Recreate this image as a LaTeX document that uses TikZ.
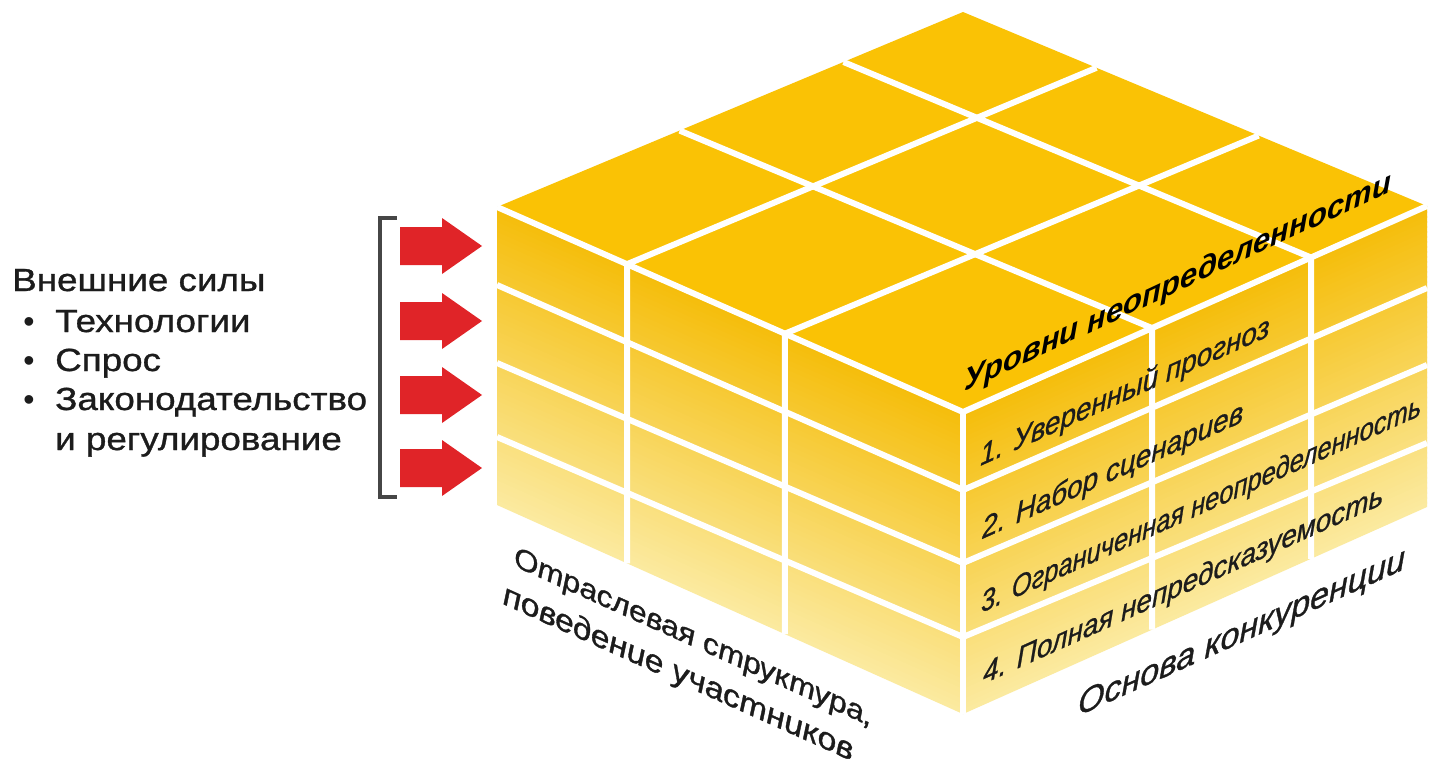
\documentclass[tikz,border=0pt]{standalone}
\usepackage{fontspec}
\setmainfont{Liberation Sans}
\newfontfamily\lblfont[FakeStretch=1.15, FakeBold=1]{Liberation Sans}
\newfontfamily\facefont[FakeStretch=0.93, FakeBold=0.8]{Liberation Sans}
\newfontfamily\facefontn[FakeStretch=0.85, FakeBold=0.8]{Liberation Sans}
\newfontfamily\axisfont[FakeBold=1]{Liberation Sans}
\usetikzlibrary{calc}
\definecolor{topface}{RGB}{250,194,5}
\definecolor{sidetop}{RGB}{245,189,10}
\definecolor{sidebot}{RGB}{251,234,160}
\definecolor{arrowred}{RGB}{224,36,40}
\definecolor{inkc}{RGB}{28,28,28}
\definecolor{bracketc}{RGB}{70,70,70}
\begin{document}
\begin{tikzpicture}[x=1pt,y=-1pt,
  gridline/.style={draw=white, line width=6pt},
  force/.style={fill=arrowred},
  lbl/.style={font=\lblfont\fontsize{32}{38}\selectfont, text=inkc, inner sep=0pt, anchor=base west},
  bul/.style={font=\fontsize{32}{38}\selectfont, text=inkc, inner sep=0pt, anchor=base},
  facetxt/.style={font=\facefont\itshape\fontsize{30}{36}\selectfont, text=inkc, inner sep=0pt, anchor=base west, yslant=0.45},
  facetitle/.style={font=\bfseries\itshape\fontsize{31}{36}\selectfont, text=black, inner sep=0pt, anchor=base west, yslant=0.47},
  axisr/.style={font=\axisfont\itshape\fontsize{34}{38}\selectfont, text=inkc, inner sep=0pt, anchor=base west, yslant=0.45},
  axisl/.style={text=inkc, inner sep=0pt, anchor=base west, yslant=-0.45}
]
\useasboundingbox (0,0) rectangle (1431,768);
\fill[white] (0,0) rectangle (1431,768);

% cube corners
\coordinate (L) at (497,207);
\coordinate (T) at (963,12);
\coordinate (R) at (1427,206);
\coordinate (F) at (963,412);
\coordinate (Lb) at (497,505);
\coordinate (Fb) at (963,714);
\coordinate (Rb) at (1427,507);

% side faces with vertical gradient following the face
\foreach \k in {0,...,59} {
  \pgfmathsetmacro\va{\k/60}
  \pgfmathsetmacro\vb{min(1,(\k+1)/60+0.006)}
  \pgfmathsetmacro\p{100-100*(\k+0.5)/60}
  \fill[sidetop!\p!sidebot] ($(L)!\va!(Lb)$) -- ($(F)!\va!(Fb)$) -- ($(F)!\vb!(Fb)$) -- ($(L)!\vb!(Lb)$) -- cycle;
  \fill[sidetop!\p!sidebot] ($(F)!\va!(Fb)$) -- ($(R)!\va!(Rb)$) -- ($(R)!\vb!(Rb)$) -- ($(F)!\vb!(Fb)$) -- cycle;
}
% top face
\fill[topface] (L) -- (T) -- (R) -- (F) -- cycle;

% column points
\coordinate (lc1t) at ($(L)!0.2790!(F)$);
\coordinate (lc1b) at ($(Lb)!0.2790!(Fb)$);
\coordinate (lc2t) at ($(L)!0.6180!(F)$);
\coordinate (lc2b) at ($(Lb)!0.6180!(Fb)$);
\coordinate (rc1t) at ($(F)!0.4073!(R)$);
\coordinate (rc1b) at ($(Fb)!0.4073!(Rb)$);
\coordinate (rc2t) at ($(F)!0.7500!(R)$);
\coordinate (rc2b) at ($(Fb)!0.7500!(Rb)$);
\coordinate (lc1q) at ($(lc1t)+(T)-(L)$);
\coordinate (lc2q) at ($(lc2t)+(T)-(L)$);
\coordinate (rc1q) at ($(rc1t)+(T)-(R)$);
\coordinate (rc2q) at ($(rc2t)+(T)-(R)$);

% row points
\coordinate (l1) at (497,285);
\coordinate (l2) at (497,363);
\coordinate (l3) at (497,437);
\coordinate (f1) at (963,490);
\coordinate (f2) at (963,563);
\coordinate (f3) at (963,637);
\coordinate (r1) at (1427,288);
\coordinate (r2) at (1427,365);
\coordinate (r3) at (1427,443);

% white grid
\draw[gridline] (l1) -- (f1) -- (r1);
\draw[gridline] (l2) -- (f2) -- (r2);
\draw[gridline] (l3) -- (f3) -- (r3);
\draw[gridline] (lc1b) -- (lc1t) -- (intersection of lc1t--lc1q and T--R);
\draw[gridline] (lc2b) -- (lc2t) -- (intersection of lc2t--lc2q and T--R);
\draw[gridline] (rc1b) -- (rc1t) -- (intersection of rc1t--rc1q and L--T);
\draw[gridline] (rc2b) -- (rc2t) -- (intersection of rc2t--rc2q and L--T);
\draw[gridline] (L) -- (F) -- (R);
\draw[gridline] (F) -- (Fb);

% texts on the cube
\node[facetitle] (lev) at (964,392) {Уровни неопределенности};
\node[facetxt] (lv1) at (980,466) {1. Уверенный прогноз};
\node[facetxt] (lv2) at (982,539) {2. Набор сценариев};
\node[facetxt, font=\facefontn\itshape\fontsize{30}{36}\selectfont] (lv3) at (981,613) {3. Ограниченная неопределенность};
\node[facetxt] (lv4) at (983,684) {4. Полная непредсказуемость};
\node[axisr] (basis) at (1078,716) {Основа конкуренции};
\node[axisl, font=\axisfont\itshape\fontsize{30.5}{36}\selectfont] (ind1) at (514,566) {Отраслевая структура,};
\node[axisl, font=\axisfont\itshape\fontsize{32.5}{36}\selectfont] (ind2) at (503,604) {поведение участников};

% external forces
\node[lbl] (ext) at (12,291) {Внешние силы};
\node[bul] (b1) at (29,332) {•};
\node[lbl] (t1) at (55,332) {Технологии};
\node[bul] (b2) at (29,371) {•};
\node[lbl] (t2) at (55,371) {Спрос};
\node[bul] (b3) at (29,410) {•};
\node[lbl] (t3) at (55,410) {Законодательство};
\node[lbl] (t4) at (55,450) {и регулирование};

% bracket
\coordinate (bt) at (397,218);
\coordinate (bb) at (397,497);
\draw[bracketc, line width=3.5pt] (bt) -- (380,218) -- (380,497) -- (bb);

% arrows
\foreach \c in {246,321,395,468} {
  \fill[force] (400,\c-19) -- (442,\c-19) -- (442,\c-28) -- (482,\c) -- (442,\c+28) -- (442,\c+19) -- (400,\c+19) -- cycle;
}
\end{tikzpicture}
\end{document}
